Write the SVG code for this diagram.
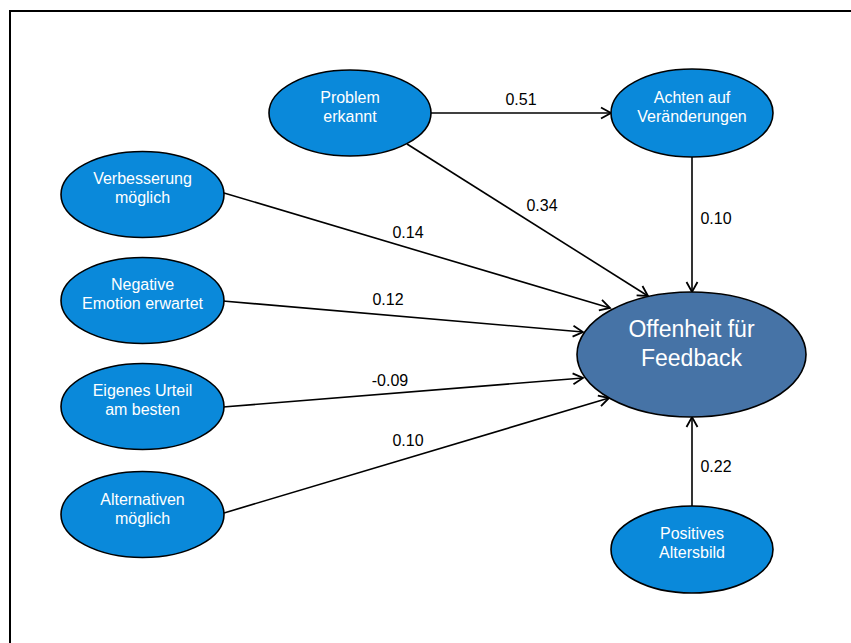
<svg xmlns="http://www.w3.org/2000/svg" width="851" height="643" viewBox="0 0 851 643">
  <style>
    .node { fill: #0A89DA; stroke: #000; stroke-width: 1.6; }
    .main { fill: #4673A6; stroke: #000; stroke-width: 1.6; }
    .nt { font-family: "Liberation Sans", Arial, sans-serif; font-size: 16px; fill: #fff; text-anchor: middle; }
    .mt { font-family: "Liberation Sans", Arial, sans-serif; font-size: 23px; fill: #fff; text-anchor: middle; }
    .lbl { font-family: "Liberation Sans", Arial, sans-serif; font-size: 16px; fill: #000; text-anchor: middle; }
    .edge { stroke: #000; stroke-width: 1.6; fill: none; marker-end: url(#arrow); }
  </style>
  <defs>
    <marker id="arrow" markerUnits="userSpaceOnUse" markerWidth="14" markerHeight="14" viewBox="0 0 14 14" refX="12" refY="7" orient="auto">
      <path d="M2,1.5 L12,7 L2,12.5" fill="none" stroke="#000" stroke-width="1.8" stroke-linejoin="miter"/>
    </marker>
  </defs>

  <rect width="851" height="643" fill="#fff"/>
  <!-- frame -->
  <rect x="10" y="11" width="860" height="660" fill="none" stroke="#000" stroke-width="2"/>

  <g id="connectors">
    <line class="edge" x1="431" y1="113" x2="611" y2="113"/>
    <line class="edge" x1="692" y1="157" x2="692" y2="292"/>
    <line class="edge" x1="407" y1="144" x2="648" y2="296"/>
    <line class="edge" x1="224" y1="193" x2="610" y2="308"/>
    <line class="edge" x1="223" y1="301" x2="583" y2="332"/>
    <line class="edge" x1="223" y1="407" x2="583" y2="378"/>
    <line class="edge" x1="224" y1="513" x2="609" y2="398"/>
    <line class="edge" x1="692" y1="506" x2="692" y2="417"/>

    <text class="lbl" x="521" y="105">0.51</text>
    <text class="lbl" x="716" y="224">0.10</text>
    <text class="lbl" x="542" y="211">0.34</text>
    <text class="lbl" x="408" y="238">0.14</text>
    <text class="lbl" x="388" y="305">0.12</text>
    <text class="lbl" x="390" y="386">-0.09</text>
    <text class="lbl" x="408" y="446">0.10</text>
    <text class="lbl" x="716" y="472">0.22</text>
  </g>

  <g id="problem-erkannt">
    <ellipse class="node" cx="350" cy="113" rx="81" ry="43"/>
    <text class="nt" x="350" y="103">Problem</text>
    <text class="nt" x="350" y="122">erkannt</text>
  </g>

  <g id="achten-auf-veraenderungen">
    <ellipse class="node" cx="692" cy="113" rx="81" ry="44"/>
    <text class="nt" x="692" y="103">Achten auf</text>
    <text class="nt" x="692" y="122">Veränderungen</text>
  </g>

  <g id="verbesserung-moeglich">
    <ellipse class="node" cx="142.5" cy="194.5" rx="81.5" ry="43"/>
    <text class="nt" x="142.5" y="184">Verbesserung</text>
    <text class="nt" x="142.5" y="203">möglich</text>
  </g>

  <g id="negative-emotion-erwartet">
    <ellipse class="node" cx="142.5" cy="300.5" rx="81.5" ry="43"/>
    <text class="nt" x="142.5" y="290">Negative</text>
    <text class="nt" x="142.5" y="309">Emotion erwartet</text>
  </g>

  <g id="eigenes-urteil-am-besten">
    <ellipse class="node" cx="142.5" cy="406.5" rx="81.5" ry="43"/>
    <text class="nt" x="142.5" y="396">Eigenes Urteil</text>
    <text class="nt" x="142.5" y="415">am besten</text>
  </g>

  <g id="alternativen-moeglich">
    <ellipse class="node" cx="142.5" cy="514.5" rx="81.5" ry="43"/>
    <text class="nt" x="142.5" y="505">Alternativen</text>
    <text class="nt" x="142.5" y="524">möglich</text>
  </g>

  <g id="offenheit-fuer-feedback">
    <ellipse class="main" cx="691.5" cy="354.5" rx="114.5" ry="62.5"/>
    <text class="mt" x="691.5" y="337">Offenheit für</text>
    <text class="mt" x="691.5" y="366">Feedback</text>
  </g>

  <g id="positives-altersbild">
    <ellipse class="node" cx="692" cy="549.5" rx="81" ry="43.5"/>
    <text class="nt" x="692" y="539">Positives</text>
    <text class="nt" x="692" y="558">Altersbild</text>
  </g>
</svg>
